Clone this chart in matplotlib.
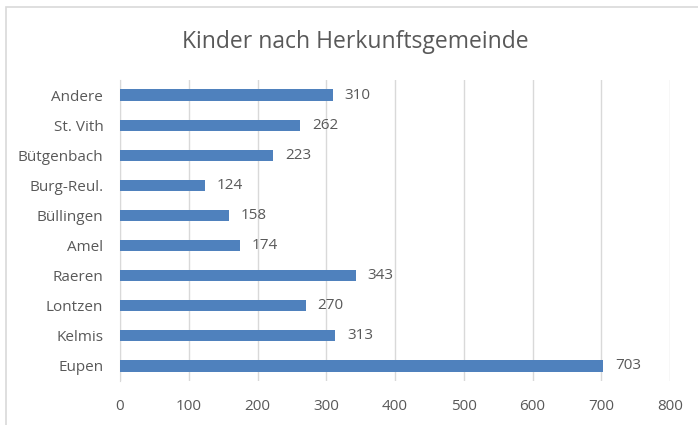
import matplotlib.pyplot as plt
from matplotlib.patches import Rectangle

gemeinden = ["Eupen", "Kelmis", "Lontzen", "Raeren", "Amel", "Büllingen",
             "Burg-Reul.", "Bütgenbach", "St. Vith", "Andere"]
kinder = [703, 313, 270, 343, 174, 158, 124, 223, 262, 310]
xticks = [0, 100, 200, 300, 400, 500, 600, 700, 800]

plt.rcParams['font.family'] = ['Open Sans', 'DejaVu Sans']
textcol = '#595959'

fig = plt.figure(figsize=(6.98, 4.25), dpi=100)
fig.patches.append(Rectangle((6/698, -0.1), 1.2, 1 - 7/425 + 0.1, transform=fig.transFigure,
                             fill=False, edgecolor='#d9d9d9', linewidth=1.2))
ax = fig.add_axes([120/698, 1 - 381/425, 550/698, 301/425])

y = range(len(gemeinden))
ax.barh(y, kinder, height=0.37, color='#4f81bd', zorder=3)
for i, v in enumerate(kinder):
    ax.text(v + 17, i, str(v), va='center', ha='left', fontsize=11, color=textcol)

ax.set_xlim(0, 800)
ax.set_ylim(-0.5, len(gemeinden) - 0.5)
ax.set_xticks(xticks)
ax.set_yticks(list(y))
ax.set_yticklabels(gemeinden)
ax.tick_params(axis='both', length=0, labelsize=11, labelcolor=textcol)
ax.tick_params(axis='x', pad=13)
ax.tick_params(axis='y', pad=12)
ax.grid(axis='x', color='#d9d9d9', linewidth=1, zorder=0)
for s in ['top', 'right', 'bottom']:
    ax.spines[s].set_visible(False)
ax.spines['left'].set_color('#d9d9d9')

fig.text(355/698, 1 - 42/425, "Kinder nach Herkunftsgemeinde", ha='center', va='center',
         fontsize=16.5, color=textcol)

fig.savefig("out.png", dpi=100)
